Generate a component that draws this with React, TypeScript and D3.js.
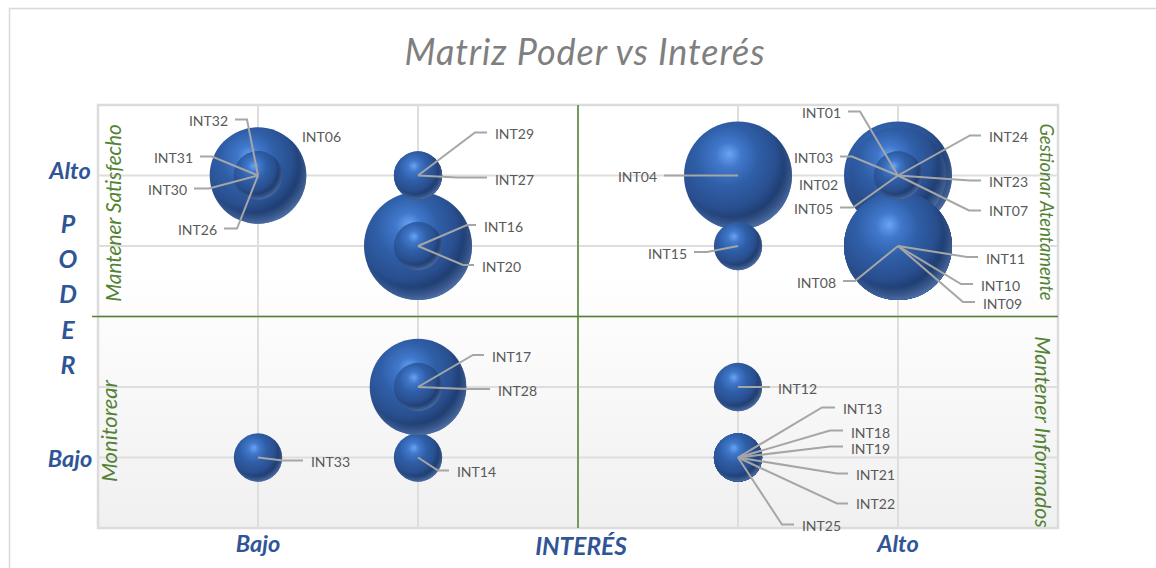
import React, { useEffect, useRef } from 'react'

import * as d3 from 'd3'

const names = ['INT01', 'INT02', 'INT03', 'INT04', 'INT05', 'INT06', 'INT07', 'INT08', 'INT09', 'INT10', 'INT11', 'INT12', 'INT13', 'INT14', 'INT15', 'INT16', 'INT17', 'INT18', 'INT19', 'INT20', 'INT21', 'INT22', 'INT23', 'INT24', 'INT25', 'INT26', 'INT27', 'INT28', 'INT29', 'INT30', 'INT31', 'INT32', 'INT33']
const interes = [5, 5, 5, 4, 5, 1, 5, 5, 5, 5, 5, 4, 4, 2, 4, 2, 2, 4, 4, 2, 4, 4, 5, 5, 4, 1, 2, 2, 2, 1, 1, 1, 1]
const poder = [5, 5, 5, 5, 5, 5, 5, 4, 4, 4, 4, 2, 1, 1, 4, 4, 2, 1, 1, 4, 1, 1, 5, 5, 1, 5, 5, 2, 5, 5, 5, 5, 1]
const impacto = [5, 4, 4, 5, 4, 4, 4, 5, 5, 5, 5, 1, 1, 1, 1, 5, 4, 1, 1, 1, 1, 1, 1, 1, 1, 1, 1, 1, 1, 1, 1, 1, 1]

// label layout, offsets in px from the bubble: text dx, dy, leader elbow dx, dy
const labelLayout = {
  INT01: [-77, -63, -38, -64],
  INT02: [-80, 9],
  INT03: [-85, -18, -46, -19],
  INT04: [-101, 1, -40, 0],
  INT05: [-85, 33, -45, 32],
  INT06: [63, -39],
  INT07: [110, 35, 71, 35],
  INT08: [-82, 36, -43, 35],
  INT09: [104, 57, 65, 56],
  INT10: [102, 39, 63, 38],
  INT11: [107, 12, 69, 11],
  INT12: [59, 1, 20, 0],
  INT13: [124, -49, 84, -50],
  INT14: [58, 14, 20, 13],
  INT15: [-71, 7, -31, 6],
  INT16: [85, -20, 49, -21],
  INT17: [93, -31, 55, -32],
  INT18: [132, -25, 92, -27],
  INT19: [132, -9, 92, -11],
  INT20: [83, 20, 45, 19],
  INT21: [137, 17, 99, 16],
  INT22: [137, 46, 99, 46],
  INT23: [110, 6, 72, 5],
  INT24: [110, -39, 72, -40],
  INT25: [83, 68, 44, 67],
  INT26: [-61, 54, -21, 53],
  INT27: [96, 4, 39, 2],
  INT28: [99, 3, 49, 2],
  INT29: [96, -42, 57, -43],
  INT30: [-91, 14, -49, 13],
  INT31: [-85, -18, -46, -19],
  INT32: [-50, -55, -11, -56],
  INT33: [72, 4, 25, 3],
}

const gridTicks = [0, 1, 2, 3, 4, 5, 6]
const xTickLabels = [{ v: 1, t: 'Bajo' }, { v: 5, t: 'Alto' }]
const yTickLabels = [{ v: 5, t: 'Alto' }, { v: 1, t: 'Bajo' }]
const poderLetters = ['P', 'O', 'D', 'E', 'R']

const BLUE = '#2f5597'
const GREEN = '#548235'

const App = () => {
  const ref = useRef(null)

  useEffect(() => {
    const svg = d3.select(ref.current)
    svg.selectAll('*').remove()

    const x = d3.scaleLinear().domain([0, 6]).range([98, 1058])
    const y = d3.scaleLinear().domain([0, 6]).range([528, 105])
    const r = d3.scaleSqrt().domain([0, 5]).range([0, 54])

    const defs = svg.append('defs')

    const bg = defs.append('linearGradient').attr('id', 'plotBg').attr('x1', 0).attr('y1', 0).attr('x2', 0).attr('y2', 1)
    bg.append('stop').attr('offset', '0.4').attr('stop-color', '#ffffff')
    bg.append('stop').attr('offset', '1').attr('stop-color', '#f0f0f0')

    const ball = defs.append('radialGradient').attr('id', 'ball')
      .attr('cx', 0.36).attr('cy', 0.36).attr('r', 0.78).attr('fx', 0.42).attr('fy', 0.3)
    ball.append('stop').attr('offset', '0').attr('stop-color', '#6aa4f2')
    ball.append('stop').attr('offset', '0.15').attr('stop-color', '#4178cc')
    ball.append('stop').attr('offset', '0.36').attr('stop-color', '#2f5fa8')
    ball.append('stop').attr('offset', '0.6').attr('stop-color', '#294f8f')
    ball.append('stop').attr('offset', '0.8').attr('stop-color', '#1a3562')
    ball.append('stop').attr('offset', '1').attr('stop-color', '#081226')

    // lighter rim along the lower edge
    const rim = defs.append('radialGradient').attr('id', 'rim')
      .attr('cx', 0.44).attr('cy', 0.4).attr('r', 0.62)
    rim.append('stop').attr('offset', '0.78').attr('stop-color', '#5f86c8').attr('stop-opacity', 0)
    rim.append('stop').attr('offset', '1').attr('stop-color', '#5f86c8').attr('stop-opacity', 0.8)

    // chart frame
    svg.append('path').attr('d', 'M9.5,568V8.5H1156').attr('fill', 'none').attr('stroke', '#d9d9d9').attr('stroke-width', 1.5)

    svg.append('text').attr('x', 585).attr('y', 51).attr('text-anchor', 'middle').attr('dominant-baseline', 'central')
      .attr('font-family', 'Lato').attr('font-style', 'italic').attr('font-size', 36).attr('letter-spacing', 0.9)
      .attr('fill', '#7f7f7f').text('Matriz Poder vs Interés')

    // plot area and grid
    svg.append('rect').attr('x', x(0)).attr('y', y(6)).attr('width', x(6) - x(0)).attr('height', y(0) - y(6))
      .attr('fill', 'url(#plotBg)').attr('stroke', '#dcdcdc').attr('stroke-width', 2.5)

    const grid = svg.append('g').attr('stroke', '#dedede').attr('stroke-width', 2)
    grid.selectAll('line.v').data(gridTicks.slice(1, -1)).enter().append('line').attr('class', 'v')
      .attr('x1', (d) => x(d)).attr('x2', (d) => x(d)).attr('y1', y(0)).attr('y2', y(6))
    grid.selectAll('line.h').data(gridTicks.slice(1, -1)).enter().append('line').attr('class', 'h')
      .attr('y1', (d) => y(d)).attr('y2', (d) => y(d)).attr('x1', x(0)).attr('x2', x(6))

    // quadrant cross
    svg.append('line').attr('x1', x(3)).attr('x2', x(3)).attr('y1', y(6)).attr('y2', y(0)).attr('stroke', GREEN).attr('stroke-width', 1.5)
    svg.append('line').attr('x1', x(0) - 6).attr('x2', x(6)).attr('y1', y(3)).attr('y2', y(3)).attr('stroke', GREEN).attr('stroke-width', 1.5)

    // bubbles
    const rows = names.map((name, i) => ({ name, x: interes[i], y: poder[i], size: impacto[i] }))

    const balls = svg.append('g').selectAll('g').data(rows).enter().append('g')
      .attr('transform', (d) => `translate(${x(d.x)},${y(d.y)})`)
    balls.append('circle').attr('r', (d) => r(d.size)).attr('fill', 'url(#ball)')
    balls.append('circle').attr('r', (d) => r(d.size)).attr('fill', 'url(#rim)')

    // leader lines go over every bubble
    const leaderPath = (d) => {
      const l = labelLayout[d.name]
      const cx = x(d.x)
      const cy = y(d.y)
      const endX = l[0] > 0 ? l[0] - 27 : l[0] + 27
      return d3.line()([[cx, cy], [cx + l[2], cy + l[3]], [cx + endX, cy + l[3]]])
    }
    svg.append('g').selectAll('path').data(rows.filter((d) => labelLayout[d.name].length === 4)).enter().append('path')
      .attr('d', leaderPath).attr('fill', 'none').attr('stroke', '#a6a6a6').attr('stroke-width', 2)

    svg.append('g').selectAll('text').data(rows).enter().append('text')
      .attr('x', (d) => x(d.x) + labelLayout[d.name][0] + 0.5)
      .attr('y', (d) => y(d.y) + labelLayout[d.name][1])
      .attr('text-anchor', 'middle').attr('dominant-baseline', 'central')
      .attr('font-family', 'Lato').attr('font-size', 14).attr('fill', '#595959')
      .text((d) => d.name)

    // axis words
    const axisWord = (px, py, t, size) => svg.append('text').attr('x', px).attr('y', py)
      .attr('text-anchor', 'middle').attr('dominant-baseline', 'central')
      .attr('font-family', 'Lato').attr('font-style', 'italic').attr('font-weight', 700)
      .attr('font-size', size).attr('fill', BLUE).text(t)

    xTickLabels.forEach((d) => axisWord(x(d.v), 543, d.t, 23.5))
    yTickLabels.forEach((d) => axisWord(70, y(d.v) - (d.v === 5 ? 6 : 0), d.t, 23.5))
    axisWord(581, 545, 'INTERÉS', 24.5)
    poderLetters.forEach((t, i) => axisWord(68, 223 + i * 35.2, t, 25))

    // quadrant names
    const quadrant = (px, py, angle, t, size) => svg.append('text')
      .attr('transform', `translate(${px},${py}) rotate(${angle})`)
      .attr('text-anchor', 'middle').attr('dominant-baseline', 'central')
      .attr('font-family', 'Lato').attr('font-style', 'italic').attr('font-size', size).attr('fill', GREEN).text(t)

    quadrant(112, 213, -90, 'Mantener Satisfecho', 20.8)
    quadrant(108, 431, -90, 'Monitorear', 22)
    quadrant(1047, 212, 90, 'Gestionar Atentamente', 18.4)
    quadrant(1043, 432, 90, 'Mantener Informados', 21.4)
  }, [])

  return <svg ref={ref} width={1156} height={568} style={{ position: 'absolute', left: 0, top: 0 }}></svg>
}

export default App
